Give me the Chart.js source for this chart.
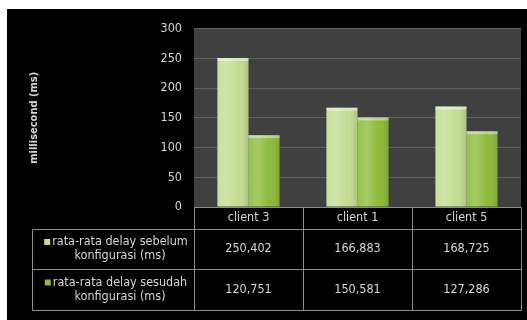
<!DOCTYPE html>
<html>
<head>
<meta charset="utf-8">
<script src="https://cdn.jsdelivr.net/npm/chart.js@4/dist/chart.umd.min.js"></script>
<style>
  html, body { margin: 0; padding: 0; background: #fff; }
  #wrap { position: absolute; left: 7px; top: 9px; width: 520px; height: 311px; background: #000; }
</style>
</head>
<body>
<div id="wrap"><canvas id="chart-delay" width="520" height="311"></canvas></div>
<script>
// ── Data ─────────────────────────────────────────────────────────────────
const clients = ["client 3", "client 1", "client 5"];
const delaySebelum = [250.402, 166.883, 168.725];
const delaySesudah = [120.751, 150.581, 127.286];
const seriesLabels = [
  ["rata-rata delay sebelum", "konfigurasi (ms)"],
  ["rata-rata delay sesudah", "konfigurasi (ms)"],
];
const yTicks = { min: 0, max: 300, step: 50 };

const COLORS = ["#c3dc92", "#8cbb3a"];
const FONT = "'DejaVu Sans Condensed', 'DejaVu Sans', sans-serif";
const TEXT = "#d6d6d6";
const LINE = "#8c8c8c";

const fmt = v => v.toFixed(3).replace(".", ",");

// Gray plot background behind the grid
const plotBg = {
  id: "plotBg",
  beforeDraw(chart) {
    const { ctx, chartArea: a } = chart;
    ctx.save();
    ctx.fillStyle = "#404040";
    ctx.fillRect(a.left, a.top, a.right - a.left, a.bottom - a.top);
    ctx.restore();
  },
};

// Soft bevel on the bars: side shading and a pale top cap
const barShade = {
  id: "barShade",
  afterDatasetsDraw(chart) {
    const { ctx } = chart;
    chart.data.datasets.forEach((ds, di) => {
      chart.getDatasetMeta(di).data.forEach(bar => {
        const x0 = bar.x - bar.width / 2, w = bar.width;
        const top = bar.y, h = bar.base - bar.y;
        const g = ctx.createLinearGradient(x0, 0, x0 + w, 0);
        g.addColorStop(0, "rgba(255,255,255,0.10)");
        g.addColorStop(0.3, "rgba(255,255,255,0.22)");
        g.addColorStop(0.65, "rgba(255,255,255,0.0)");
        g.addColorStop(1, "rgba(0,0,0,0.12)");
        ctx.save();
        ctx.fillStyle = g;
        ctx.fillRect(x0, top, w, h);
        ctx.fillStyle = "rgba(255,255,255,0.4)";
        ctx.fillRect(x0, top, w, 3);
        ctx.restore();
      });
    });
  },
};

// Data table under the plot (category header + one row per series)
const dataTable = {
  id: "dataTable",
  afterDraw(chart) {
    const { ctx, chartArea: a } = chart;
    const xs = chart.scales.x;
    const colW = (a.right - a.left) / clients.length;
    const tableLeft = 25;
    const rows = [a.bottom, a.bottom + 22, a.bottom + 62, a.bottom + 103];

    ctx.save();
    ctx.strokeStyle = LINE;
    ctx.lineWidth = 1;
    const line = (x1, y1, x2, y2) => {
      ctx.beginPath();
      ctx.moveTo(Math.round(x1) + 0.5, Math.round(y1) + 0.5);
      ctx.lineTo(Math.round(x2) + 0.5, Math.round(y2) + 0.5);
      ctx.stroke();
    };
    line(a.left, rows[0], a.right, rows[0]);
    for (let r = 1; r < rows.length; r++) line(tableLeft, rows[r], a.right, rows[r]);
    line(tableLeft, rows[1], tableLeft, rows[3]);
    for (let c = 0; c <= clients.length; c++) {
      const x = a.left + c * colW;
      line(x, rows[0], x, rows[3]);
    }

    ctx.fillStyle = TEXT;
    ctx.font = "12.5px " + FONT;
    ctx.textAlign = "center";
    ctx.textBaseline = "middle";
    clients.forEach((c, i) => {
      ctx.fillText(c, xs.getPixelForTick(i), (rows[0] + rows[1]) / 2);
    });

    [delaySebelum, delaySesudah].forEach((vals, r) => {
      const yMid = (rows[r + 1] + rows[r + 2]) / 2;
      vals.forEach((v, i) => {
        ctx.fillStyle = TEXT;
        ctx.fillText(fmt(v), xs.getPixelForTick(i), yMid);
      });
      const cx = (tableLeft + a.left) / 2 + 7;
      const [l1, l2] = seriesLabels[r];
      ctx.fillStyle = TEXT;
      ctx.fillText(l1, cx, yMid - 7);
      ctx.fillText(l2, cx, yMid + 7);
      const w1 = ctx.measureText(l1).width;
      ctx.fillStyle = COLORS[r];
      ctx.fillRect(cx - w1 / 2 - 8, yMid - 10, 6, 6);
    });
    ctx.restore();
  },
};

new Chart(document.getElementById("chart-delay"), {
  type: "bar",
  data: {
    labels: clients,
    datasets: [
      { label: seriesLabels[0].join(" "), data: delaySebelum, backgroundColor: COLORS[0] },
      { label: seriesLabels[1].join(" "), data: delaySesudah, backgroundColor: COLORS[1] },
    ],
  },
  options: {
    responsive: false,
    animation: false,
    layout: { padding: { left: 0, top: 16, right: 6, bottom: 105 } },
    datasets: { bar: { categoryPercentage: 0.57, barPercentage: 1.0 } },
    plugins: { legend: { display: false }, tooltip: { enabled: false } },
    scales: {
      x: {
        grid: { display: false },
        border: { display: false },
        ticks: { display: false },
      },
      y: {
        min: yTicks.min,
        max: yTicks.max,
        afterFit: s => { s.width = 187; },
        grid: { color: "#606060", drawTicks: false },
        border: { display: false },
        ticks: {
          stepSize: yTicks.step,
          padding: 12,
          color: TEXT,
          font: { family: FONT, size: 12.5 },
        },
        title: {
          display: true,
          text: "millisecond (ms)",
          color: TEXT,
          padding: { top: 21 },
          font: { family: FONT, size: 11, weight: "bold" },
        },
      },
    },
  },
  plugins: [plotBg, barShade, dataTable],
});
</script>
</body>
</html>
